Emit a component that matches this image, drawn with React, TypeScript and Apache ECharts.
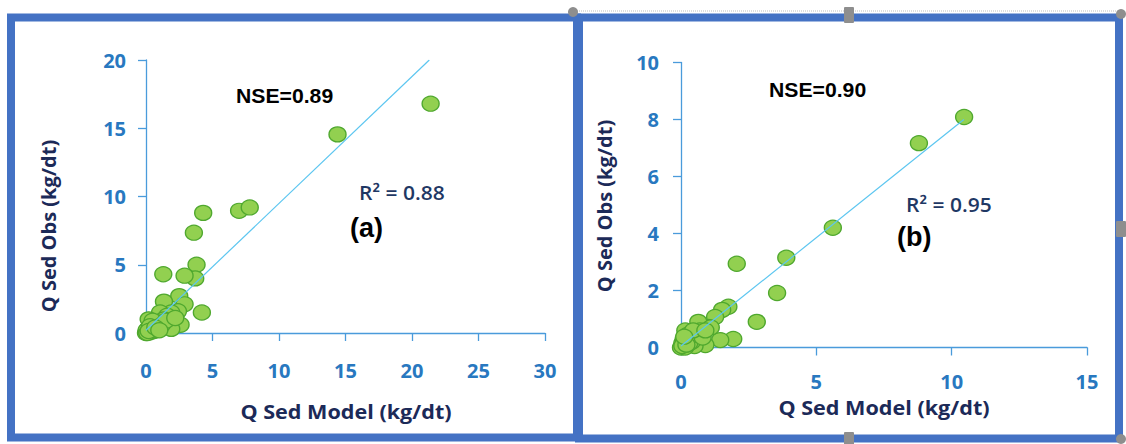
import React, { useEffect, useRef } from "react";
import * as echarts from "echarts";

// Panel (a)
const modelA = [21.4, 14.4, 7.0, 7.8, 4.3, 3.6, 3.8, 3.7, 2.9, 1.3, 2.5, 1.35, 2.9, 4.2, 2.4, 1.9, 1.06, 1.6, 1.35, 0.2, 0.8, 2.6, 1.9, 0.9, 0.36, 0.6, 0.15, 0.0, 0.1, 0.3, 0.5, 0.05, 0.5, 0.8, 1.2, 0.3, 0.1, 0.2, 1.5, 2.2, 0.7, 1.0];
const obsA = [16.8, 14.55, 8.95, 9.2, 8.8, 7.35, 5.0, 4.0, 4.2, 4.3, 2.7, 2.3, 2.1, 1.5, 1.6, 1.5, 1.5, 1.27, 1.0, 1.0, 0.8, 0.6, 0.3, 0.5, 0.17, 0.15, 0.3, 0.0, 0.1, 0.05, 0.6, 0.2, 0.9, 0.3, 0.6, 0.5, 0.0, 0.15, 0.9, 1.1, 0.4, 0.2];
const fitA = [[0, 0.2], [21.3, 20]];
const xMaxA = 30, xStepA = 5, yMaxA = 20, yStepA = 5;

// Panel (b)
const modelB = [10.46, 8.79, 5.61, 3.89, 3.55, 2.06, 2.8, 1.93, 1.45, 1.75, 1.52, 1.26, 1.0, 0.64, 0.9, 0.42, 0.16, 0.27, 0.6, 0.0, 0.1, 0.2, 0.05, 0.35, 0.5, 1.1, 0.3, 0.1, 0.25, 0.4, 0.7, 0.15, 0.3, 0.55, 0.8, 0.05, 0.2, 0.45, 0.9, 0.12];
const obsB = [8.09, 7.17, 4.2, 3.15, 1.91, 2.94, 0.9, 0.3, 0.26, 1.43, 1.32, 1.07, 0.72, 0.9, 0.09, 0.5, 0.6, 0.09, 0.33, 0.0, 0.05, 0.25, 0.15, 0.1, 0.05, 0.7, 0.4, 0.3, 0.45, 0.2, 0.6, 0.0, 0.15, 0.45, 0.35, 0.05, 0.1, 0.6, 0.6, 0.38];
const fitB = [[0, 0.05], [10.45, 8.0]];
const xMaxB = 15, xStepB = 5, yMaxB = 10, yStepB = 2;

const labelsA = { nse: "NSE=0.89", r2: "R² = 0.88", tag: "(a)" };
const labelsB = { nse: "NSE=0.90", r2: "R² = 0.95", tag: "(b)" };
const xName = "Q Sed Model (kg/dt)";
const yName = "Q Sed Obs (kg/dt)";

const AXIS_COLOR = "#4A9BDB";
const TICK_COLOR = "#2878C0";
const NAME_COLOR = "#1C2A58";
const FRAME = "#4472C4";
const HANDLE = "#8E8E8E";

function axisBase(max: number, step: number, labelMargin: number) {
  return {
    type: "value",
    min: 0,
    max,
    interval: step,
    splitLine: { show: false },
    axisLine: { show: true, onZero: false, lineStyle: { color: AXIS_COLOR, width: 1.3 } },
    axisTick: { show: true, inside: false, length: 8, lineStyle: { color: AXIS_COLOR, width: 1.3 } },
    axisLabel: {
      color: TICK_COLOR,
      fontFamily: "Open Sans",
      fontWeight: "bold",
      fontSize: 20,
      margin: labelMargin,
    },
  };
}

function scatterSeries(xi: number, model: number[], obs: number[]) {
  return {
    type: "scatter",
    xAxisIndex: xi,
    yAxisIndex: xi,
    symbol: "circle",
    symbolSize: [17, 15],
    itemStyle: { color: "#92D050", borderColor: "#4FA82E", borderWidth: 1.3, opacity: 1 },
    data: model.map((x, i) => [x, obs[i]]),
    z: 2,
  };
}

function fitSeries(xi: number, fit: number[][]) {
  return {
    type: "line",
    xAxisIndex: xi,
    yAxisIndex: xi,
    symbol: "none",
    lineStyle: { color: "#5CC6F0", width: 1.2 },
    data: fit,
    z: 3,
  };
}

function txt(x: number, y: number, text: string, font: string, fill: string, align = "left", rotation = 0, scaleX = 1) {
  return {
    type: "text",
    x,
    y,
    rotation,
    scaleX,
    z: 10,
    style: { text, font, fill, align, verticalAlign: "middle" },
  };
}

export default function App() {
  const ref = useRef<HTMLDivElement>(null);
  useEffect(() => {
    if (!ref.current) return;
    const chart = echarts.init(ref.current, undefined, { renderer: "svg" });
    const nseFont = "bold 20px 'Liberation Sans', Arial, sans-serif";
    const r2Font = "600 20px 'Open Sans', sans-serif";
    const tagFont = "bold 27px 'Liberation Sans', Arial, sans-serif";
    const nameFont = "bold 20px 'Open Sans', sans-serif";
    chart.setOption({
      animation: false,
      backgroundColor: "#ffffff",
      grid: [
        { left: 146, top: 60, width: 399, height: 273, containLabel: false },
        { left: 681, top: 62.5, width: 406, height: 285, containLabel: false },
      ],
      xAxis: [
        { ...axisBase(xMaxA, xStepA, 27), gridIndex: 0 },
        { ...axisBase(xMaxB, xStepB, 24), gridIndex: 1 },
      ],
      yAxis: [
        { ...axisBase(yMaxA, yStepA, 20), gridIndex: 0 },
        { ...axisBase(yMaxB, yStepB, 22), gridIndex: 1 },
      ],
      series: [
        scatterSeries(0, modelA, obsA),
        fitSeries(0, fitA),
        scatterSeries(1, modelB, obsB),
        fitSeries(1, fitB),
      ],
      graphic: [
        // frames
        { type: "rect", shape: { x: 11, y: 17.5, width: 566, height: 420 }, style: { fill: "none", stroke: FRAME, lineWidth: 8 }, z: 5 },
        { type: "rect", shape: { x: 579, y: 17.5, width: 540, height: 421 }, style: { fill: "none", stroke: FRAME, lineWidth: 8 }, z: 5 },
        { type: "line", shape: { x1: 573, y1: 11, x2: 1122, y2: 11 }, style: { stroke: "#BDBDBD", lineWidth: 1, lineDash: [1, 1] }, z: 5 },
        // handles
        { type: "circle", shape: { cx: 573, cy: 12, r: 5 }, style: { fill: HANDLE }, z: 6 },
        { type: "circle", shape: { cx: 1121, cy: 14, r: 5 }, style: { fill: HANDLE }, z: 6 },
        { type: "circle", shape: { cx: 1121, cy: 439, r: 5 }, style: { fill: HANDLE }, z: 6 },
        { type: "rect", shape: { x: 844, y: 7, width: 10, height: 16, r: 1 }, style: { fill: HANDLE }, z: 6 },
        { type: "rect", shape: { x: 844, y: 432, width: 10, height: 14, r: 1 }, style: { fill: HANDLE }, z: 6 },
        { type: "rect", shape: { x: 1116, y: 221, width: 10, height: 16, r: 1 }, style: { fill: HANDLE }, z: 6 },
        // panel (a) texts
        txt(48, 226, yName, nameFont, NAME_COLOR, "center", Math.PI / 2),
        txt(346, 411, xName, nameFont, NAME_COLOR, "center", 0, 1.08),
        txt(236, 96, labelsA.nse, nseFont, "#000000", "left", 0, 1.06),
        txt(359, 192, labelsA.r2, r2Font, "#1F3864", "left", 0, 1.05),
        txt(350, 228, labelsA.tag, tagFont, "#000000"),
        // panel (b) texts
        txt(604, 206, yName, nameFont, NAME_COLOR, "center", Math.PI / 2),
        txt(884, 407, xName, nameFont, NAME_COLOR, "center", 0, 1.08),
        txt(769, 90, labelsB.nse, nseFont, "#000000", "left", 0, 1.06),
        txt(906, 204, labelsB.r2, r2Font, "#1F3864", "left", 0, 1.05),
        txt(897, 237, labelsB.tag, tagFont, "#000000"),
      ],
    });
    return () => chart.dispose();
  }, []);
  return (
    <div
      ref={ref}
      style={{ position: "absolute", left: 0, top: 0, width: 1126, height: 444 }}
    />
  );
}
